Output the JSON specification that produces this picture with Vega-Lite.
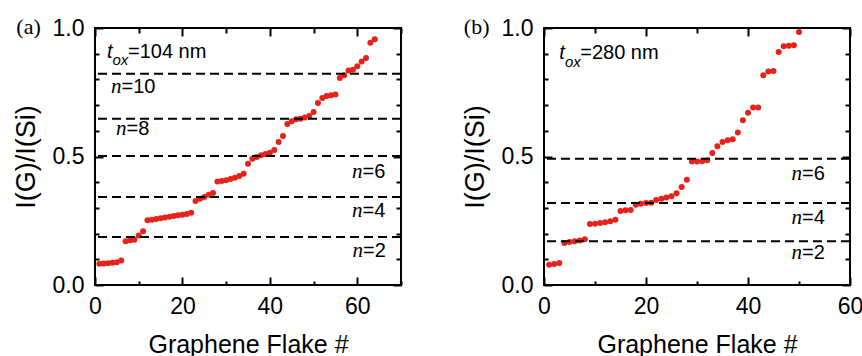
{
  "$schema": "https://vega.github.io/schema/vega-lite/v6.json",
  "padding": {"left": 11, "top": 14, "right": 0, "bottom": 0},
  "spacing": 57,
  "config": {
    "view": {"stroke": "black", "strokeWidth": 2},
    "axis": {"tickColor": "black", "tickWidth": 2, "labelFont": "Liberation Sans", "labelFontSize": 23, "labelColor": "black", "titleFont": "Liberation Sans", "titleFontSize": 25, "titleFontWeight": "normal", "titleColor": "black", "grid": false, "domain": false, "labelFlush": false, "labelOverlap": false}
  },
  "hconcat": [
    {
      "width": 306, "height": 257,
      "data": {"values": [
        {"x":1,"y":0.083},{"x":2,"y":0.084},{"x":3,"y":0.085},{"x":4,"y":0.087},{"x":5,"y":0.089},{"x":6,"y":0.095},
        {"x":7,"y":0.170},{"x":8,"y":0.174},{"x":9,"y":0.176},{"x":10,"y":0.193},{"x":11,"y":0.209},
        {"x":12,"y":0.252},{"x":13,"y":0.254},{"x":14,"y":0.257},{"x":15,"y":0.260},{"x":16,"y":0.263},{"x":17,"y":0.266},
        {"x":18,"y":0.268},{"x":19,"y":0.271},{"x":20,"y":0.273},{"x":21,"y":0.276},{"x":22,"y":0.281},
        {"x":23,"y":0.327},{"x":24,"y":0.336},{"x":25,"y":0.342},{"x":26,"y":0.351},{"x":27,"y":0.358},
        {"x":28,"y":0.403},{"x":29,"y":0.405},{"x":30,"y":0.408},{"x":31,"y":0.412},{"x":32,"y":0.417},{"x":33,"y":0.424},{"x":34,"y":0.433},
        {"x":35,"y":0.472},{"x":36,"y":0.491},{"x":37,"y":0.498},{"x":38,"y":0.505},{"x":39,"y":0.510},{"x":40,"y":0.515},{"x":41,"y":0.525},
        {"x":42,"y":0.556},{"x":43,"y":0.580},{"x":44,"y":0.626},{"x":45,"y":0.637},{"x":46,"y":0.645},{"x":47,"y":0.647},{"x":48,"y":0.652},
        {"x":49,"y":0.658},{"x":50,"y":0.673},{"x":51,"y":0.708},{"x":52,"y":0.728},{"x":53,"y":0.735},{"x":54,"y":0.738},{"x":55,"y":0.741},
        {"x":56,"y":0.805},{"x":57,"y":0.816},{"x":58,"y":0.835},{"x":59,"y":0.838},{"x":60,"y":0.851},{"x":61,"y":0.870},{"x":62,"y":0.883},
        {"x":63,"y":0.943},{"x":64,"y":0.956}
      ]},
      "layer": [
        {
          "mark": {"type": "circle", "size": 36, "color": "#e8221b", "opacity": 1},
          "encoding": {
            "x": {"field": "x", "type": "quantitative", "scale": {"domain": [0, 70], "nice": false},
                  "axis": {"orient": "bottom", "values": [0,10,20,30,40,50,60,70], "labelExpr": "datum.value % 20 == 0 ? datum.label : ''",
                           "tickSize": {"condition": {"test": "datum.value % 20 == 0", "value": -8}, "value": -4},
                           "labelPadding": 18, "title": "Graphene Flake #", "titlePadding": 10}},
            "y": {"field": "y", "type": "quantitative", "scale": {"domain": [0, 1], "nice": false},
                  "axis": {"orient": "left", "values": [0,0.1,0.2,0.3,0.4,0.5,0.6,0.7,0.8,0.9,1], "labelExpr": "datum.value % 0.5 == 0 ? format(datum.value, '.1f') : ''",
                           "tickSize": {"condition": {"test": "datum.value % 0.5 == 0", "value": -8}, "value": -4},
                           "labelPadding": 19, "title": "I(G)/I(Si)", "titleFontSize": 27, "titlePadding": 12}}
          }
        },
        {
          "mark": {"type": "circle", "size": 36, "opacity": 0},
          "encoding": {
            "x": {"field": "x", "type": "quantitative", "scale": {"domain": [0, 70], "nice": false},
                  "axis": {"orient": "top", "values": [0,10,20,30,40,50,60,70], "labels": false, "title": null,
                           "tickSize": {"condition": {"test": "datum.value % 20 == 0", "value": -8}, "value": -5}}},
            "y": {"field": "y", "type": "quantitative", "scale": {"domain": [0, 1], "nice": false},
                  "axis": {"orient": "right", "values": [0,0.1,0.2,0.3,0.4,0.5,0.6,0.7,0.8,0.9,1], "labels": false, "title": null,
                           "tickSize": {"condition": {"test": "datum.value % 0.5 == 0", "value": -8}, "value": -5}}}
          }
        },
        {
          "data": {"values": [{"y": 0.822}, {"y": 0.647}, {"y": 0.502}, {"y": 0.342}, {"y": 0.187}]},
          "mark": {"type": "rule", "color": "black", "strokeWidth": 2, "strokeDash": [9, 5]},
          "encoding": {"y": {"field": "y", "type": "quantitative", "scale": {"domain": [0, 1], "nice": false}, "axis": null}}
        },
        {
          "data": {"values": [{"x": 6.06, "y": 0.747, "t": "n"}, {"x": 7.2, "y": 0.584, "t": "n"}, {"x": 61.2, "y": 0.4175, "t": "n"}, {"x": 61.2, "y": 0.2646, "t": "n"}, {"x": 61.3, "y": 0.109, "t": "n"}]},
          "mark": {"type": "text", "font": "Liberation Serif", "fontStyle": "italic", "fontSize": 21, "align": "right", "baseline": "alphabetic", "color": "black"},
          "encoding": {
            "x": {"field": "x", "type": "quantitative", "scale": {"domain": [0, 70], "nice": false}, "axis": null},
            "y": {"field": "y", "type": "quantitative", "scale": {"domain": [0, 1], "nice": false}, "axis": null},
            "text": {"field": "t"}
          }
        },
        {
          "data": {"values": [{"x": 6.06, "y": 0.747, "t": "=10"}, {"x": 7.2, "y": 0.584, "t": "=8"}, {"x": 61.2, "y": 0.4175, "t": "=6"}, {"x": 61.2, "y": 0.2646, "t": "=4"}, {"x": 61.3, "y": 0.109, "t": "=2"}, {"x": 7.55, "y": 0.883, "t": "=104 nm"}]},
          "mark": {"type": "text", "font": "Liberation Sans", "fontSize": 20, "align": "left", "baseline": "alphabetic", "color": "black"},
          "encoding": {
            "x": {"field": "x", "type": "quantitative", "scale": {"domain": [0, 70], "nice": false}, "axis": null},
            "y": {"field": "y", "type": "quantitative", "scale": {"domain": [0, 1], "nice": false}, "axis": null},
            "text": {"field": "t"}
          }
        },
        {
          "data": {"values": [{"x": 4.0, "y": 0.883, "t": "t"}]},
          "mark": {"type": "text", "font": "Liberation Sans", "fontStyle": "italic", "fontSize": 20, "align": "right", "baseline": "alphabetic", "color": "black"},
          "encoding": {
            "x": {"field": "x", "type": "quantitative", "scale": {"domain": [0, 70], "nice": false}, "axis": null},
            "y": {"field": "y", "type": "quantitative", "scale": {"domain": [0, 1], "nice": false}, "axis": null},
            "text": {"field": "t"}
          }
        },
        {
          "data": {"values": [{"x": 4.0, "y": 0.855, "t": "ox"}]},
          "mark": {"type": "text", "font": "Liberation Sans", "fontStyle": "italic", "fontSize": 15, "align": "left", "baseline": "alphabetic", "color": "black"},
          "encoding": {
            "x": {"field": "x", "type": "quantitative", "scale": {"domain": [0, 70], "nice": false}, "axis": null},
            "y": {"field": "y", "type": "quantitative", "scale": {"domain": [0, 1], "nice": false}, "axis": null},
            "text": {"field": "t"}
          }
        },
        {
          "data": {"values": [{"x": -15.2, "y": 1.004, "t": "(a)"}]},
          "mark": {"type": "text", "font": "Liberation Serif", "fontSize": 22, "align": "center", "baseline": "middle", "color": "black"},
          "encoding": {
            "x": {"field": "x", "type": "quantitative", "scale": {"domain": [0, 70], "nice": false}, "axis": null},
            "y": {"field": "y", "type": "quantitative", "scale": {"domain": [0, 1], "nice": false}, "axis": null},
            "text": {"field": "t"}
          }
        }
      ],
      "resolve": {"axis": {"x": "independent", "y": "independent"}}
    },
    {
      "width": 306, "height": 257,
      "data": {"values": [
        {"x":1,"y":0.079},{"x":2,"y":0.082},{"x":3,"y":0.086},
        {"x":4,"y":0.163},{"x":5,"y":0.167},{"x":6,"y":0.170},{"x":7,"y":0.173},{"x":8,"y":0.178},
        {"x":9,"y":0.237},{"x":10,"y":0.238},{"x":11,"y":0.241},{"x":12,"y":0.244},{"x":13,"y":0.248},{"x":14,"y":0.254},
        {"x":15,"y":0.288},{"x":16,"y":0.291},{"x":17,"y":0.292},
        {"x":18,"y":0.312},{"x":19,"y":0.316},{"x":20,"y":0.319},{"x":21,"y":0.320},
        {"x":22,"y":0.331},{"x":23,"y":0.336},{"x":24,"y":0.340},{"x":25,"y":0.345},{"x":26,"y":0.357},{"x":27,"y":0.381},{"x":28,"y":0.410},
        {"x":29,"y":0.481},{"x":30,"y":0.481},{"x":31,"y":0.482},{"x":32,"y":0.485},{"x":33,"y":0.514},{"x":34,"y":0.540},
        {"x":35,"y":0.556},{"x":36,"y":0.563},{"x":37,"y":0.567},{"x":38,"y":0.593},{"x":39,"y":0.641},{"x":40,"y":0.670},
        {"x":41,"y":0.691},{"x":42,"y":0.691},{"x":43,"y":0.816},{"x":44,"y":0.831},{"x":45,"y":0.833},{"x":46,"y":0.907},
        {"x":47,"y":0.929},{"x":48,"y":0.931},{"x":49,"y":0.933},{"x":50,"y":0.984}
      ]},
      "layer": [
        {
          "mark": {"type": "circle", "size": 36, "color": "#e8221b", "opacity": 1},
          "encoding": {
            "x": {"field": "x", "type": "quantitative", "scale": {"domain": [0, 60], "nice": false},
                  "axis": {"orient": "bottom", "values": [0,10,20,30,40,50,60], "labelExpr": "datum.value % 20 == 0 ? datum.label : ''",
                           "tickSize": {"condition": {"test": "datum.value % 20 == 0", "value": -8}, "value": -4},
                           "labelPadding": 18, "title": "Graphene Flake #", "titlePadding": 10}},
            "y": {"field": "y", "type": "quantitative", "scale": {"domain": [0, 1], "nice": false},
                  "axis": {"orient": "left", "values": [0,0.1,0.2,0.3,0.4,0.5,0.6,0.7,0.8,0.9,1], "labelExpr": "datum.value % 0.5 == 0 ? format(datum.value, '.1f') : ''",
                           "tickSize": {"condition": {"test": "datum.value % 0.5 == 0", "value": -8}, "value": -4},
                           "labelPadding": 19, "title": "I(G)/I(Si)", "titleFontSize": 27, "titlePadding": 12}}
          }
        },
        {
          "mark": {"type": "circle", "size": 36, "opacity": 0},
          "encoding": {
            "x": {"field": "x", "type": "quantitative", "scale": {"domain": [0, 60], "nice": false},
                  "axis": {"orient": "top", "values": [0,10,20,30,40,50,60], "labels": false, "title": null,
                           "tickSize": {"condition": {"test": "datum.value % 20 == 0", "value": -8}, "value": -5}}},
            "y": {"field": "y", "type": "quantitative", "scale": {"domain": [0, 1], "nice": false},
                  "axis": {"orient": "right", "values": [0,0.1,0.2,0.3,0.4,0.5,0.6,0.7,0.8,0.9,1], "labels": false, "title": null,
                           "tickSize": {"condition": {"test": "datum.value % 0.5 == 0", "value": -8}, "value": -5}}}
          }
        },
        {
          "data": {"values": [{"y": 0.491}, {"y": 0.319}, {"y": 0.170}]},
          "mark": {"type": "rule", "color": "black", "strokeWidth": 2, "strokeDash": [9, 5]},
          "encoding": {"y": {"field": "y", "type": "quantitative", "scale": {"domain": [0, 1], "nice": false}, "axis": null}}
        },
        {
          "data": {"values": [{"x": 50.6, "y": 0.4086, "t": "n"}, {"x": 50.6, "y": 0.2387, "t": "n"}, {"x": 50.6, "y": 0.102, "t": "n"}]},
          "mark": {"type": "text", "font": "Liberation Serif", "fontStyle": "italic", "fontSize": 21, "align": "right", "baseline": "alphabetic", "color": "black"},
          "encoding": {
            "x": {"field": "x", "type": "quantitative", "scale": {"domain": [0, 60], "nice": false}, "axis": null},
            "y": {"field": "y", "type": "quantitative", "scale": {"domain": [0, 1], "nice": false}, "axis": null},
            "text": {"field": "t"}
          }
        },
        {
          "data": {"values": [{"x": 50.6, "y": 0.4086, "t": "=6"}, {"x": 50.6, "y": 0.2387, "t": "=4"}, {"x": 50.6, "y": 0.102, "t": "=2"}, {"x": 7.1, "y": 0.8805, "t": "=280 nm"}]},
          "mark": {"type": "text", "font": "Liberation Sans", "fontSize": 20, "align": "left", "baseline": "alphabetic", "color": "black"},
          "encoding": {
            "x": {"field": "x", "type": "quantitative", "scale": {"domain": [0, 60], "nice": false}, "axis": null},
            "y": {"field": "y", "type": "quantitative", "scale": {"domain": [0, 1], "nice": false}, "axis": null},
            "text": {"field": "t"}
          }
        },
        {
          "data": {"values": [{"x": 4.1, "y": 0.8805, "t": "t"}]},
          "mark": {"type": "text", "font": "Liberation Sans", "fontStyle": "italic", "fontSize": 20, "align": "right", "baseline": "alphabetic", "color": "black"},
          "encoding": {
            "x": {"field": "x", "type": "quantitative", "scale": {"domain": [0, 60], "nice": false}, "axis": null},
            "y": {"field": "y", "type": "quantitative", "scale": {"domain": [0, 1], "nice": false}, "axis": null},
            "text": {"field": "t"}
          }
        },
        {
          "data": {"values": [{"x": 4.1, "y": 0.848, "t": "ox"}]},
          "mark": {"type": "text", "font": "Liberation Sans", "fontStyle": "italic", "fontSize": 15, "align": "left", "baseline": "alphabetic", "color": "black"},
          "encoding": {
            "x": {"field": "x", "type": "quantitative", "scale": {"domain": [0, 60], "nice": false}, "axis": null},
            "y": {"field": "y", "type": "quantitative", "scale": {"domain": [0, 1], "nice": false}, "axis": null},
            "text": {"field": "t"}
          }
        },
        {
          "data": {"values": [{"x": -13.2, "y": 1.004, "t": "(b)"}]},
          "mark": {"type": "text", "font": "Liberation Serif", "fontSize": 22, "align": "center", "baseline": "middle", "color": "black"},
          "encoding": {
            "x": {"field": "x", "type": "quantitative", "scale": {"domain": [0, 60], "nice": false}, "axis": null},
            "y": {"field": "y", "type": "quantitative", "scale": {"domain": [0, 1], "nice": false}, "axis": null},
            "text": {"field": "t"}
          }
        }
      ],
      "resolve": {"axis": {"x": "independent", "y": "independent"}}
    }
  ]
}
